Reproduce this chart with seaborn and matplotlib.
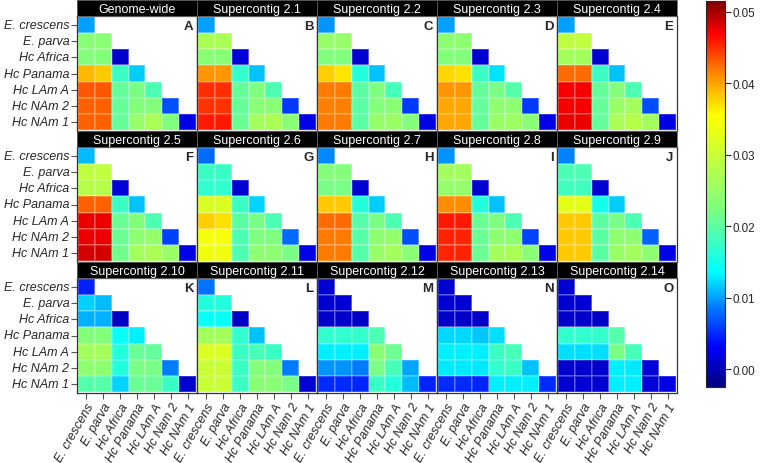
import numpy as np
import pandas as pd
import matplotlib
matplotlib.use("Agg")
import matplotlib.pyplot as plt
import seaborn as sns
from matplotlib.colors import LinearSegmentedColormap, Normalize
from matplotlib.cm import ScalarMappable

# row / column populations
row_labels = ["E. crescens", "E. parva", "Hc Africa", "Hc Panama", "Hc LAm A", "Hc NAm 2", "Hc NAm 1"]
col_labels = ["E. crescens", "E. parva", "Hc Africa", "Hc Panama", "Hc LAm A", "Hc Nam 2", "Hc NAm 1"]

titles = ["Genome-wide", "Supercontig 2.1", "Supercontig 2.2", "Supercontig 2.3", "Supercontig 2.4",
          "Supercontig 2.5", "Supercontig 2.6", "Supercontig 2.7", "Supercontig 2.8", "Supercontig 2.9",
          "Supercontig 2.10", "Supercontig 2.11", "Supercontig 2.12", "Supercontig 2.13", "Supercontig 2.14"]
letters = list("ABCDEFGHIJKLMNO")

# lower-triangle values (row by row, diagonal included)
genome_wide = [[0.010],
               [0.0235, 0.0235],
               [0.023, 0.023, 0.001],
               [0.039, 0.038, 0.0177, 0.0118],
               [0.0433, 0.0433, 0.0205, 0.022, 0.019],
               [0.043, 0.043, 0.0205, 0.023, 0.023, 0.0066],
               [0.043, 0.043, 0.0205, 0.0248, 0.027, 0.0225, 0.002]]
sc_2_1 = [[0.010],
          [0.027, 0.027],
          [0.0235, 0.0235, 0.0015],
          [0.0407, 0.0407, 0.017, 0.0114],
          [0.045, 0.045, 0.0205, 0.0225, 0.019],
          [0.0448, 0.0448, 0.0205, 0.0235, 0.0235, 0.0057],
          [0.046, 0.046, 0.021, 0.026, 0.027, 0.0235, 0.002]]
sc_2_2 = [[0.0097],
          [0.0248, 0.0248],
          [0.0228, 0.0228, 0.0012],
          [0.0378, 0.0368, 0.016, 0.0114],
          [0.042, 0.042, 0.020, 0.0225, 0.0185],
          [0.0416, 0.0416, 0.020, 0.023, 0.0235, 0.0057],
          [0.042, 0.042, 0.020, 0.0245, 0.025, 0.023, 0.002]]
sc_2_3 = [[0.010],
          [0.024, 0.024],
          [0.023, 0.023, 0.0012],
          [0.0375, 0.037, 0.0177, 0.0125],
          [0.0407, 0.0407, 0.0205, 0.022, 0.0195],
          [0.0397, 0.0397, 0.0205, 0.024, 0.024, 0.0057],
          [0.0397, 0.0397, 0.0205, 0.025, 0.0255, 0.0235, 0.002]]
sc_2_4 = [[0.010],
          [0.029, 0.029],
          [0.026, 0.026, 0.0012],
          [0.0425, 0.0425, 0.0177, 0.0114],
          [0.0472, 0.0472, 0.0205, 0.023, 0.019],
          [0.0472, 0.0472, 0.0205, 0.025, 0.026, 0.0066],
          [0.0475, 0.0475, 0.0205, 0.027, 0.028, 0.026, 0.002]]
sc_2_5 = [[0.011],
          [0.029, 0.029],
          [0.028, 0.028, 0.0015],
          [0.043, 0.043, 0.0177, 0.0114],
          [0.0475, 0.0475, 0.021, 0.023, 0.019],
          [0.0477, 0.0477, 0.021, 0.024, 0.0245, 0.006],
          [0.0485, 0.0485, 0.0215, 0.026, 0.027, 0.025, 0.002]]
sc_2_6 = [[0.008],
          [0.0177, 0.0177],
          [0.017, 0.017, 0.0012],
          [0.032, 0.032, 0.0177, 0.012],
          [0.0378, 0.037, 0.020, 0.022, 0.019],
          [0.0345, 0.0345, 0.019, 0.0225, 0.0225, 0.008],
          [0.034, 0.034, 0.019, 0.024, 0.024, 0.022, 0.002]]
sc_2_7 = [[0.0093],
          [0.023, 0.023],
          [0.022, 0.022, 0.0012],
          [0.038, 0.038, 0.016, 0.0118],
          [0.0425, 0.0425, 0.0195, 0.022, 0.019],
          [0.0418, 0.0418, 0.0195, 0.024, 0.0245, 0.0066],
          [0.0418, 0.0418, 0.0195, 0.025, 0.026, 0.0235, 0.002]]
sc_2_8 = [[0.0097],
          [0.026, 0.026],
          [0.0245, 0.0245, 0.0012],
          [0.041, 0.041, 0.016, 0.0114],
          [0.046, 0.046, 0.021, 0.0225, 0.019],
          [0.0455, 0.0455, 0.021, 0.024, 0.024, 0.006],
          [0.0455, 0.0455, 0.021, 0.026, 0.027, 0.0235, 0.002]]
sc_2_9 = [[0.009],
          [0.019, 0.019],
          [0.018, 0.018, 0.0012],
          [0.033, 0.033, 0.015, 0.0118],
          [0.038, 0.038, 0.020, 0.022, 0.019],
          [0.038, 0.038, 0.020, 0.024, 0.024, 0.0075],
          [0.038, 0.038, 0.020, 0.025, 0.026, 0.024, 0.002]]
sc_2_10 = [[0.0045],
           [0.012, 0.011],
           [0.0107, 0.0107, 0.0006],
           [0.023, 0.023, 0.014, 0.0129],
           [0.026, 0.026, 0.016, 0.021, 0.0205],
           [0.024, 0.024, 0.016, 0.022, 0.022, 0.0088],
           [0.0195, 0.0195, 0.012, 0.021, 0.021, 0.0177, 0.001]]
sc_2_11 = [[0.0084],
           [0.016, 0.016],
           [0.014, 0.014, 0.0006],
           [0.026, 0.026, 0.017, 0.0114],
           [0.032, 0.032, 0.0177, 0.0185, 0.0177],
           [0.030, 0.030, 0.0177, 0.023, 0.023, 0.0088],
           [0.030, 0.030, 0.0177, 0.0235, 0.0235, 0.022, 0.0012]]
sc_2_12 = [[0.0012],
           [0.0012, 0.0012],
           [0.0008, 0.0008, 0.0008],
           [0.017, 0.017, 0.017, 0.019],
           [0.0129, 0.0129, 0.0129, 0.0235, 0.0212],
           [0.0096, 0.0096, 0.0088, 0.022, 0.0185, 0.0103],
           [0.005, 0.005, 0.0048, 0.0177, 0.016, 0.011, 0.0045]]
sc_2_13 = [[0.0012],
           [0.0012, 0.0012],
           [0.0008, 0.0008, 0.0008],
           [0.0121, 0.0121, 0.0116, 0.0123],
           [0.0129, 0.0129, 0.0129, 0.0177, 0.0185],
           [0.0127, 0.0127, 0.0127, 0.017, 0.0177, 0.0114],
           [0.005, 0.005, 0.0048, 0.0129, 0.0129, 0.013, 0.005]]
sc_2_14 = [[0.0012],
           [0.0012, 0.0012],
           [0.0008, 0.0008, 0.0008],
           [0.017, 0.017, 0.017, 0.0195],
           [0.0123, 0.0123, 0.0123, 0.022, 0.0185],
           [0.001, 0.001, 0.001, 0.0129, 0.0127, 0.0015],
           [0.0012, 0.0012, 0.0012, 0.0129, 0.0129, 0.0015, 0.002]]

panels = [genome_wide, sc_2_1, sc_2_2, sc_2_3, sc_2_4,
          sc_2_5, sc_2_6, sc_2_7, sc_2_8, sc_2_9,
          sc_2_10, sc_2_11, sc_2_12, sc_2_13, sc_2_14]

# colour scale (jet-like, stretched like the original key)
vmin, vmax = -0.0025, 0.0515
anchors = [(-0.0025, "#00007F"), (0.003, "#0000FF"), (0.0088, "#007FFF"), (0.0135, "#00FFFF"),
           (0.0225, "#7FFF7F"), (0.0356, "#FFFF00"), (0.0418, "#FF7F00"), (0.047, "#FF0000"),
           (0.0515, "#7F0000")]
cmap = LinearSegmentedColormap.from_list(
    "fst", [((v - vmin) / (vmax - vmin), c) for v, c in anchors])
norm = Normalize(vmin=vmin, vmax=vmax)

sns.set_style("ticks")
plt.rcParams["font.family"] = ["Liberation Sans", "DejaVu Sans"]

W, H = 760, 464
fig = plt.figure(figsize=(7.6, 4.64), dpi=100)

x_edges = [77, 197, 317, 437, 557]
pw = 120
row_tops = [1, 132, 263]   # strip tops (px)
strip_h = 16
ph = 115
lab_size = 9

for i, tri in enumerate(panels):
    r, c = divmod(i, 5)
    mat = np.full((7, 7), np.nan)
    for j, vals in enumerate(tri):
        mat[j, :len(vals)] = vals
    df = pd.DataFrame(mat, index=row_labels, columns=col_labels)

    left = x_edges[c] / W
    top_strip = row_tops[r]
    ax_bottom = 1 - (top_strip + strip_h + ph) / H
    ax = fig.add_axes([left, ax_bottom, pw / W, ph / H])
    sns.heatmap(df, ax=ax, cmap=cmap, vmin=vmin, vmax=vmax, cbar=False,
                linewidths=0.25, linecolor=(1, 1, 1, 0.2))
    ax.set_xlim(-0.05, 7.05)
    ax.set_ylim(7.05, -0.05)
    for s in ax.spines.values():
        s.set_visible(True)
        s.set_color("#333333")
        s.set_linewidth(0.9)
    ax.tick_params(left=(c == 0), bottom=(r == 2), length=4, width=0.8,
                   color="#555555", pad=1.5)
    if c == 0:
        ax.set_yticklabels(row_labels, rotation=0, fontsize=lab_size, style="italic")
    else:
        ax.set_yticks([])
    if r == 2:
        ax.set_xticklabels(col_labels, rotation=60, ha="right", rotation_mode="anchor",
                           fontsize=lab_size, style="italic")
    else:
        ax.set_xticks([])
    ax.set_xlabel("")
    ax.set_ylabel("")
    ax.text(0.97, 0.965, letters[i], transform=ax.transAxes, ha="right", va="top",
            fontsize=9.5, fontweight="bold")

    # black title strip
    sax = fig.add_axes([left, 1 - (top_strip + strip_h) / H, pw / W, strip_h / H])
    sax.set_facecolor("black")
    sax.set_xticks([])
    sax.set_yticks([])
    for s in sax.spines.values():
        s.set_color("#666666")
        s.set_linewidth(0.6)
    sax.text(0.5, 0.45, titles[i], color="white", ha="center", va="center",
             fontsize=9, transform=sax.transAxes)

# colour key
cax = fig.add_axes([706 / W, 1 - 388 / H, 19 / W, 386 / H])
cb = fig.colorbar(ScalarMappable(norm=norm, cmap=cmap), cax=cax)
cb.set_ticks([0.0, 0.01, 0.02, 0.03, 0.04, 0.05])
cb.set_ticklabels(["0.00", "0.01", "0.02", "0.03", "0.04", "0.05"])
cb.ax.tick_params(right=True, labelsize=8.4, length=4, width=0.8, pad=1.5)
cb.outline.set_linewidth(0.8)

fig.savefig("out.png", dpi=100)
